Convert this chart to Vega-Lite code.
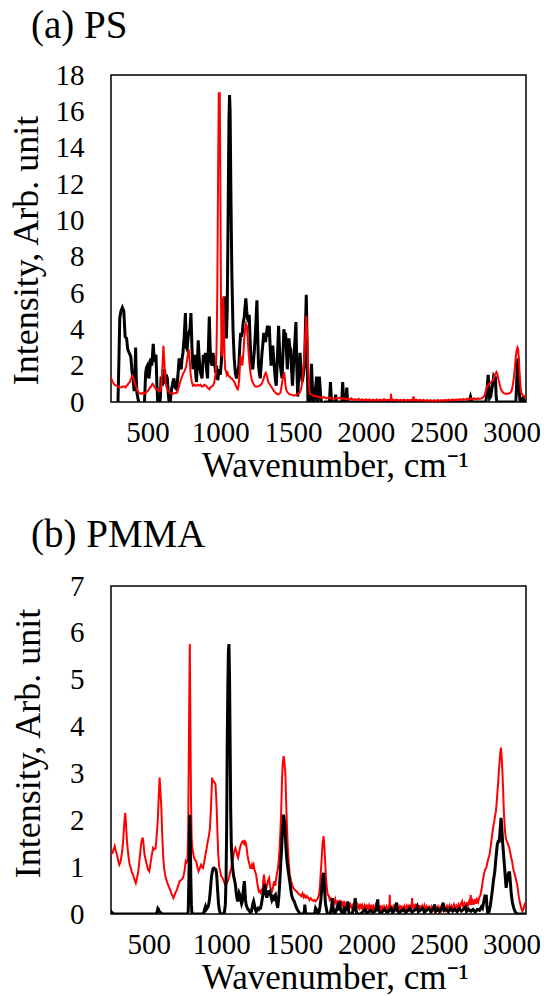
{
"$schema": "https://vega.github.io/schema/vega-lite/v6.json",
"background": "white",
"padding": {"left": 7, "top": 6, "right": 0, "bottom": 0},
"spacing": 31,
"config": {
  "font": "Liberation Serif",
  "view": {"stroke": "black", "strokeWidth": 1.5},
  "axis": {"grid": false, "ticks": false, "domain": false, "labelFont": "Liberation Serif", "labelFontSize": 29, "labelColor": "black", "titleFont": "Liberation Serif", "titleFontSize": 35, "titleFontWeight": "normal", "titleColor": "black", "labelFlush": false, "labelOverlap": false},
  "axisY": {"titleFontSize": 36},
  "title": {"font": "Liberation Serif", "fontSize": 39, "fontWeight": "normal", "anchor": "start", "color": "black", "frame": "group"}
},
"datasets": {
"psk": [{"x":290,"y":-1},{"x":298,"y":0},{"x":305,"y":2.5},{"x":310,"y":4.6},{"x":318,"y":5.0},{"x":328,"y":5.2},{"x":338,"y":5.0},{"x":347,"y":3.6},{"x":357,"y":3.5},{"x":365,"y":2.9},{"x":375,"y":2.7},{"x":386,"y":2.5},{"x":395,"y":1.6},{"x":400,"y":1.4},{"x":409,"y":0.6},{"x":414,"y":1.5},{"x":419,"y":3.0},{"x":424,"y":1.2},{"x":428,"y":0.5},{"x":440,"y":0},{"x":452,"y":-0.5},{"x":471,"y":-0.3},{"x":480,"y":0},{"x":488,"y":1.6},{"x":494,"y":1.9},{"x":500,"y":2.0},{"x":505,"y":1.5},{"x":511,"y":1.3},{"x":517,"y":1.8},{"x":523,"y":2.4},{"x":530,"y":2.0},{"x":540,"y":3.2},{"x":545,"y":2.6},{"x":549,"y":2.2},{"x":555,"y":2.5},{"x":559,"y":2.6},{"x":565,"y":1.0},{"x":571,"y":0},{"x":583,"y":-0.5},{"x":590,"y":0.4},{"x":594,"y":1.4},{"x":600,"y":1.2},{"x":606,"y":1.1},{"x":612,"y":1.4},{"x":618,"y":1.8},{"x":625,"y":1.0},{"x":630,"y":1.5},{"x":637,"y":1.3},{"x":645,"y":0.3},{"x":654,"y":-0.3},{"x":660,"y":0.3},{"x":666,"y":0.7},{"x":675,"y":1.1},{"x":682,"y":1.3},{"x":690,"y":0.8},{"x":701,"y":0.7},{"x":710,"y":1.5},{"x":718,"y":2.4},{"x":725,"y":2.0},{"x":732,"y":1.8},{"x":738,"y":2.4},{"x":744,"y":2.7},{"x":752,"y":3.5},{"x":761,"y":4.9},{"x":767,"y":3.0},{"x":773,"y":2.9},{"x":780,"y":3.6},{"x":785,"y":3.8},{"x":792,"y":4.0},{"x":799,"y":4.9},{"x":806,"y":3.0},{"x":813,"y":1.8},{"x":820,"y":2.2},{"x":827,"y":2.6},{"x":832,"y":1.5},{"x":837,"y":1.1},{"x":843,"y":2.2},{"x":849,"y":3.4},{"x":855,"y":2.5},{"x":861,"y":1.8},{"x":868,"y":1.5},{"x":875,"y":1.3},{"x":880,"y":2.0},{"x":884,"y":2.6},{"x":890,"y":2.2},{"x":899,"y":2.7},{"x":906,"y":1.8},{"x":913,"y":1.3},{"x":919,"y":3.0},{"x":925,"y":4.7},{"x":931,"y":3.0},{"x":937,"y":2.2},{"x":944,"y":2.0},{"x":951,"y":2.7},{"x":957,"y":2.3},{"x":963,"y":2.0},{"x":969,"y":1.6},{"x":975,"y":2.0},{"x":983,"y":1.2},{"x":992,"y":1.8},{"x":1000,"y":1.5},{"x":1008,"y":2.2},{"x":1015,"y":3.5},{"x":1022,"y":5.6},{"x":1030,"y":5.8},{"x":1036,"y":4.0},{"x":1042,"y":3.5},{"x":1048,"y":5.0},{"x":1054,"y":10.0},{"x":1060,"y":15.5},{"x":1064,"y":16.9},{"x":1068,"y":16.0},{"x":1074,"y":11.0},{"x":1080,"y":7.0},{"x":1088,"y":4.0},{"x":1096,"y":2.4},{"x":1104,"y":1.6},{"x":1112,"y":1.3},{"x":1120,"y":1.6},{"x":1128,"y":2.0},{"x":1134,"y":3.0},{"x":1140,"y":3.8},{"x":1146,"y":3.6},{"x":1152,"y":3.8},{"x":1158,"y":4.4},{"x":1164,"y":4.6},{"x":1170,"y":5.2},{"x":1176,"y":5.7},{"x":1182,"y":5.0},{"x":1188,"y":4.6},{"x":1194,"y":4.4},{"x":1199,"y":4.8},{"x":1205,"y":3.5},{"x":1211,"y":2.4},{"x":1217,"y":2.0},{"x":1223,"y":1.8},{"x":1229,"y":2.3},{"x":1235,"y":2.9},{"x":1243,"y":4.0},{"x":1252,"y":5.6},{"x":1258,"y":3.5},{"x":1263,"y":2.0},{"x":1269,"y":1.6},{"x":1275,"y":1.3},{"x":1281,"y":2.0},{"x":1287,"y":2.7},{"x":1293,"y":3.2},{"x":1299,"y":3.8},{"x":1305,"y":3.6},{"x":1311,"y":3.3},{"x":1318,"y":3.8},{"x":1325,"y":4.2},{"x":1331,"y":3.6},{"x":1337,"y":4.2},{"x":1343,"y":3.0},{"x":1349,"y":2.0},{"x":1355,"y":2.6},{"x":1361,"y":3.1},{"x":1367,"y":2.4},{"x":1373,"y":1.8},{"x":1379,"y":1.2},{"x":1385,"y":0.9},{"x":1393,"y":2.5},{"x":1401,"y":4.2},{"x":1407,"y":3.0},{"x":1413,"y":2.0},{"x":1419,"y":1.6},{"x":1425,"y":1.3},{"x":1431,"y":2.6},{"x":1437,"y":4.0},{"x":1443,"y":3.7},{"x":1449,"y":3.8},{"x":1455,"y":2.8},{"x":1461,"y":1.8},{"x":1466,"y":2.6},{"x":1472,"y":3.5},{"x":1478,"y":3.0},{"x":1484,"y":2.9},{"x":1490,"y":1.8},{"x":1496,"y":0.9},{"x":1502,"y":1.8},{"x":1508,"y":2.7},{"x":1514,"y":3.5},{"x":1520,"y":4.4},{"x":1526,"y":2.0},{"x":1532,"y":0.3},{"x":1540,"y":1.5},{"x":1548,"y":2.7},{"x":1555,"y":1.8},{"x":1563,"y":1.1},{"x":1571,"y":1.5},{"x":1579,"y":2.0},{"x":1585,"y":4.0},{"x":1591,"y":5.9},{"x":1597,"y":3.0},{"x":1603,"y":-0.3},{"x":1615,"y":0},{"x":1621,"y":1.0},{"x":1627,"y":2.1},{"x":1633,"y":0.8},{"x":1639,"y":-0.3},{"x":1645,"y":0},{"x":1650,"y":0.5},{"x":1656,"y":0.9},{"x":1662,"y":1.4},{"x":1666,"y":0.5},{"x":1669,"y":-0.2},{"x":1675,"y":0.5},{"x":1681,"y":1.4},{"x":1686,"y":0.8},{"x":1691,"y":0.2},{"x":1700,"y":-0.2},{"x":1720,"y":0},{"x":1750,"y":0},{"x":1754,"y":0.6},{"x":1757,"y":1.1},{"x":1761,"y":0.5},{"x":1765,"y":0},{"x":1788,"y":0},{"x":1793,"y":0.4},{"x":1798,"y":0},{"x":1835,"y":0},{"x":1838,"y":0.6},{"x":1841,"y":1.1},{"x":1845,"y":0.5},{"x":1848,"y":0},{"x":1864,"y":0},{"x":1867,"y":0.5},{"x":1869,"y":0.8},{"x":1872,"y":0.4},{"x":1876,"y":0},{"x":2700,"y":0},{"x":2712,"y":0.1},{"x":2719,"y":0.3},{"x":2726,"y":0.1},{"x":2735,"y":0},{"x":2825,"y":0},{"x":2832,"y":0.6},{"x":2840,"y":1.5},{"x":2846,"y":0.8},{"x":2850,"y":0.2},{"x":2858,"y":0.3},{"x":2865,"y":0.7},{"x":2872,"y":1.0},{"x":2878,"y":1.4},{"x":2884,"y":1.3},{"x":2890,"y":1.4},{"x":2895,"y":0.3},{"x":2900,"y":0},{"x":3030,"y":0},{"x":3035,"y":0.8},{"x":3040,"y":2.0},{"x":3045,"y":2.4},{"x":3050,"y":1.5},{"x":3055,"y":0.4},{"x":3060,"y":0},{"x":3075,"y":0},{"x":3080,"y":0.3},{"x":3086,"y":0},{"x":3100,"y":0}],
"psr": [{"x":250,"y":1.36},{"x":256,"y":1.2},{"x":262,"y":1.1},{"x":274,"y":0.95},{"x":286,"y":0.9},{"x":300,"y":0.85},{"x":310,"y":0.82},{"x":321,"y":0.8},{"x":330,"y":0.85},{"x":340,"y":0.85},{"x":350,"y":0.8},{"x":357,"y":0.9},{"x":365,"y":0.95},{"x":372,"y":1.05},{"x":380,"y":1.1},{"x":388,"y":1.3},{"x":397,"y":1.45},{"x":405,"y":1.3},{"x":410,"y":1.1},{"x":416,"y":1.0},{"x":422,"y":0.85},{"x":428,"y":0.7},{"x":434,"y":0.6},{"x":440,"y":0.5},{"x":450,"y":0.48},{"x":458,"y":0.45},{"x":466,"y":0.5},{"x":475,"y":0.45},{"x":485,"y":0.5},{"x":495,"y":0.55},{"x":503,"y":0.6},{"x":511,"y":0.7},{"x":518,"y":0.8},{"x":525,"y":0.85},{"x":530,"y":0.95},{"x":535,"y":1.0},{"x":541,"y":0.95},{"x":547,"y":0.85},{"x":553,"y":0.8},{"x":559,"y":0.7},{"x":567,"y":0.7},{"x":575,"y":0.65},{"x":582,"y":0.6},{"x":589,"y":0.6},{"x":595,"y":0.9},{"x":601,"y":1.6},{"x":606,"y":2.4},{"x":610,"y":3.1},{"x":615,"y":2.4},{"x":620,"y":1.6},{"x":626,"y":1.0},{"x":632,"y":0.8},{"x":637,"y":0.7},{"x":644,"y":0.6},{"x":650,"y":0.55},{"x":658,"y":0.5},{"x":666,"y":0.45},{"x":675,"y":0.45},{"x":685,"y":0.48},{"x":693,"y":0.5},{"x":701,"y":0.5},{"x":708,"y":0.6},{"x":715,"y":0.8},{"x":720,"y":0.95},{"x":725,"y":1.1},{"x":733,"y":1.3},{"x":740,"y":1.45},{"x":748,"y":1.6},{"x":755,"y":1.7},{"x":762,"y":1.85},{"x":767,"y":2.0},{"x":772,"y":2.3},{"x":778,"y":2.6},{"x":784,"y":2.9},{"x":790,"y":2.4},{"x":796,"y":1.6},{"x":801,"y":1.3},{"x":805,"y":1.1},{"x":813,"y":0.9},{"x":820,"y":0.95},{"x":828,"y":0.9},{"x":835,"y":0.9},{"x":845,"y":0.95},{"x":855,"y":0.9},{"x":865,"y":0.95},{"x":873,"y":0.85},{"x":880,"y":0.85},{"x":892,"y":0.95},{"x":903,"y":0.9},{"x":912,"y":0.8},{"x":920,"y":0.75},{"x":926,"y":0.7},{"x":933,"y":0.8},{"x":940,"y":0.85},{"x":950,"y":0.9},{"x":956,"y":1.0},{"x":962,"y":1.2},{"x":969,"y":1.6},{"x":975,"y":3.0},{"x":980,"y":6.0},{"x":985,"y":12.0},{"x":990,"y":17.0},{"x":997,"y":17.0},{"x":1001,"y":12.0},{"x":1005,"y":6.0},{"x":1009,"y":2.8},{"x":1013,"y":2.5},{"x":1017,"y":3.8},{"x":1022,"y":5.8},{"x":1026,"y":4.0},{"x":1030,"y":2.5},{"x":1034,"y":1.8},{"x":1040,"y":1.7},{"x":1045,"y":1.5},{"x":1051,"y":1.6},{"x":1057,"y":1.45},{"x":1064,"y":1.4},{"x":1070,"y":1.35},{"x":1076,"y":1.3},{"x":1081,"y":1.3},{"x":1089,"y":1.2},{"x":1097,"y":1.1},{"x":1104,"y":0.95},{"x":1110,"y":0.85},{"x":1116,"y":0.75},{"x":1121,"y":0.7},{"x":1126,"y":0.9},{"x":1130,"y":1.2},{"x":1135,"y":1.9},{"x":1140,"y":2.55},{"x":1146,"y":2.3},{"x":1152,"y":2.0},{"x":1157,"y":2.5},{"x":1162,"y":3.0},{"x":1166,"y":3.6},{"x":1171,"y":4.0},{"x":1177,"y":4.3},{"x":1183,"y":4.2},{"x":1189,"y":3.5},{"x":1195,"y":2.7},{"x":1200,"y":2.2},{"x":1205,"y":1.8},{"x":1211,"y":1.45},{"x":1216,"y":1.25},{"x":1222,"y":1.1},{"x":1228,"y":1.0},{"x":1235,"y":0.9},{"x":1242,"y":0.85},{"x":1250,"y":0.85},{"x":1260,"y":0.85},{"x":1271,"y":0.9},{"x":1278,"y":0.95},{"x":1285,"y":1.0},{"x":1292,"y":1.15},{"x":1299,"y":1.3},{"x":1306,"y":1.5},{"x":1313,"y":1.6},{"x":1318,"y":1.5},{"x":1322,"y":1.4},{"x":1326,"y":1.25},{"x":1330,"y":1.1},{"x":1338,"y":1.0},{"x":1346,"y":0.9},{"x":1354,"y":0.8},{"x":1362,"y":0.7},{"x":1370,"y":0.6},{"x":1380,"y":0.5},{"x":1389,"y":0.45},{"x":1397,"y":0.42},{"x":1405,"y":0.45},{"x":1413,"y":0.5},{"x":1418,"y":0.7},{"x":1422,"y":0.9},{"x":1426,"y":1.1},{"x":1430,"y":1.3},{"x":1436,"y":1.5},{"x":1441,"y":1.55},{"x":1445,"y":1.2},{"x":1449,"y":0.9},{"x":1453,"y":0.7},{"x":1460,"y":0.55},{"x":1466,"y":0.5},{"x":1472,"y":0.45},{"x":1480,"y":0.42},{"x":1490,"y":0.4},{"x":1499,"y":0.38},{"x":1508,"y":0.35},{"x":1516,"y":0.38},{"x":1525,"y":0.4},{"x":1534,"y":0.45},{"x":1544,"y":0.5},{"x":1551,"y":0.6},{"x":1558,"y":0.8},{"x":1563,"y":1.1},{"x":1567,"y":1.45},{"x":1573,"y":2.0},{"x":1579,"y":2.7},{"x":1585,"y":3.8},{"x":1591,"y":4.75},{"x":1596,"y":4.0},{"x":1601,"y":2.7},{"x":1606,"y":1.5},{"x":1610,"y":0.9},{"x":1615,"y":0.5},{"x":1620,"y":0.45},{"x":1625,"y":0.4},{"x":1632,"y":0.38},{"x":1639,"y":0.35},{"x":1650,"y":0.33},{"x":1660,"y":0.3},{"x":1670,"y":0.3},{"x":1680,"y":0.28},{"x":1690,"y":0.25},{"x":1700,"y":0.22},{"x":1712,"y":0.28},{"x":1725,"y":0.2},{"x":1737,"y":0.24},{"x":1750,"y":0.25},{"x":1762,"y":0.18},{"x":1775,"y":0.22},{"x":1787,"y":0.17},{"x":1800,"y":0.22},{"x":1812,"y":0.2},{"x":1825,"y":0.25},{"x":1837,"y":0.17},{"x":1850,"y":0.2},{"x":1862,"y":0.14},{"x":1876,"y":0.17},{"x":1888,"y":0.13},{"x":1900,"y":0.2},{"x":1912,"y":0.12},{"x":1925,"y":0.16},{"x":1937,"y":0.1},{"x":1950,"y":0.18},{"x":1962,"y":0.1},{"x":1975,"y":0.14},{"x":1987,"y":0.09},{"x":2000,"y":0.15},{"x":2012,"y":0.1},{"x":2025,"y":0.14},{"x":2037,"y":0.08},{"x":2050,"y":0.13},{"x":2062,"y":0.08},{"x":2075,"y":0.14},{"x":2087,"y":0.09},{"x":2100,"y":0.13},{"x":2112,"y":0.08},{"x":2125,"y":0.16},{"x":2137,"y":0.09},{"x":2150,"y":0.12},{"x":2162,"y":0.1},{"x":2170,"y":0.14},{"x":2173,"y":0.45},{"x":2177,"y":0.1},{"x":2188,"y":0.14},{"x":2200,"y":0.09},{"x":2212,"y":0.13},{"x":2225,"y":0.07},{"x":2237,"y":0.12},{"x":2250,"y":0.08},{"x":2262,"y":0.13},{"x":2275,"y":0.07},{"x":2287,"y":0.12},{"x":2300,"y":0.08},{"x":2312,"y":0.12},{"x":2322,"y":0.1},{"x":2327,"y":0.3},{"x":2332,"y":0.1},{"x":2345,"y":0.14},{"x":2357,"y":0.08},{"x":2370,"y":0.13},{"x":2382,"y":0.07},{"x":2395,"y":0.12},{"x":2407,"y":0.06},{"x":2420,"y":0.11},{"x":2432,"y":0.06},{"x":2445,"y":0.1},{"x":2457,"y":0.05},{"x":2470,"y":0.1},{"x":2482,"y":0.06},{"x":2495,"y":0.11},{"x":2507,"y":0.06},{"x":2520,"y":0.1},{"x":2532,"y":0.07},{"x":2545,"y":0.12},{"x":2557,"y":0.07},{"x":2570,"y":0.13},{"x":2582,"y":0.08},{"x":2595,"y":0.14},{"x":2607,"y":0.09},{"x":2620,"y":0.15},{"x":2632,"y":0.1},{"x":2645,"y":0.16},{"x":2657,"y":0.11},{"x":2670,"y":0.17},{"x":2682,"y":0.12},{"x":2695,"y":0.18},{"x":2707,"y":0.12},{"x":2720,"y":0.2},{"x":2732,"y":0.14},{"x":2745,"y":0.2},{"x":2757,"y":0.15},{"x":2770,"y":0.2},{"x":2782,"y":0.17},{"x":2795,"y":0.2},{"x":2805,"y":0.25},{"x":2815,"y":0.35},{"x":2822,"y":0.55},{"x":2830,"y":0.8},{"x":2837,"y":0.9},{"x":2845,"y":0.95},{"x":2852,"y":1.05},{"x":2861,"y":1.1},{"x":2868,"y":1.15},{"x":2875,"y":1.2},{"x":2882,"y":1.4},{"x":2890,"y":1.55},{"x":2897,"y":1.65},{"x":2903,"y":1.55},{"x":2909,"y":1.3},{"x":2915,"y":1.1},{"x":2921,"y":0.9},{"x":2928,"y":0.7},{"x":2935,"y":0.6},{"x":2945,"y":0.5},{"x":2956,"y":0.45},{"x":2965,"y":0.45},{"x":2975,"y":0.45},{"x":2985,"y":0.48},{"x":2992,"y":0.5},{"x":3000,"y":0.6},{"x":3008,"y":0.85},{"x":3016,"y":1.3},{"x":3024,"y":1.9},{"x":3030,"y":2.5},{"x":3036,"y":2.85},{"x":3041,"y":3.0},{"x":3046,"y":2.9},{"x":3051,"y":2.4},{"x":3056,"y":1.6},{"x":3062,"y":0.9},{"x":3068,"y":0.5},{"x":3075,"y":0.4},{"x":3082,"y":0.35},{"x":3090,"y":0.3},{"x":3100,"y":0.2}],
"pmr": [{"x":230,"y":1.23},{"x":240,"y":1.28},{"x":250,"y":1.3},{"x":258,"y":1.38},{"x":266,"y":1.45},{"x":273,"y":1.35},{"x":281,"y":1.27},{"x":289,"y":1.15},{"x":297,"y":1.05},{"x":305,"y":1.1},{"x":314,"y":1.27},{"x":321,"y":1.45},{"x":328,"y":1.77},{"x":333,"y":2.0},{"x":338,"y":2.16},{"x":343,"y":1.95},{"x":350,"y":1.55},{"x":358,"y":1.3},{"x":365,"y":1.12},{"x":369,"y":1.05},{"x":375,"y":1.0},{"x":383,"y":0.9},{"x":392,"y":0.84},{"x":400,"y":0.75},{"x":406,"y":0.7},{"x":411,"y":0.66},{"x":418,"y":0.75},{"x":428,"y":0.91},{"x":435,"y":1.1},{"x":441,"y":1.3},{"x":447,"y":1.48},{"x":453,"y":1.58},{"x":459,"y":1.63},{"x":464,"y":1.5},{"x":471,"y":1.27},{"x":479,"y":1.15},{"x":487,"y":1.05},{"x":495,"y":0.95},{"x":504,"y":0.91},{"x":511,"y":1.05},{"x":518,"y":1.2},{"x":525,"y":1.32},{"x":530,"y":1.41},{"x":538,"y":1.38},{"x":547,"y":1.4},{"x":553,"y":1.6},{"x":558,"y":1.8},{"x":563,"y":2.05},{"x":569,"y":2.5},{"x":575,"y":2.91},{"x":581,"y":2.6},{"x":587,"y":2.27},{"x":593,"y":1.7},{"x":599,"y":1.27},{"x":605,"y":1.0},{"x":612,"y":0.85},{"x":618,"y":0.77},{"x":625,"y":0.7},{"x":633,"y":0.62},{"x":642,"y":0.56},{"x":650,"y":0.5},{"x":660,"y":0.41},{"x":666,"y":0.38},{"x":670,"y":0.34},{"x":676,"y":0.38},{"x":683,"y":0.45},{"x":689,"y":0.48},{"x":697,"y":0.55},{"x":705,"y":0.62},{"x":713,"y":0.7},{"x":722,"y":0.72},{"x":730,"y":0.75},{"x":736,"y":0.77},{"x":742,"y":0.85},{"x":748,"y":0.95},{"x":755,"y":1.13},{"x":762,"y":1.1},{"x":767,"y":1.13},{"x":772,"y":1.8},{"x":775,"y":2.9},{"x":779,"y":4.5},{"x":783,"y":5.76},{"x":787,"y":4.2},{"x":791,"y":2.5},{"x":796,"y":1.6},{"x":801,"y":1.41},{"x":806,"y":1.3},{"x":812,"y":1.2},{"x":820,"y":1.15},{"x":827,"y":1.13},{"x":835,"y":1.0},{"x":843,"y":0.91},{"x":851,"y":0.98},{"x":860,"y":1.05},{"x":867,"y":1.0},{"x":874,"y":0.98},{"x":882,"y":1.1},{"x":891,"y":1.27},{"x":899,"y":1.4},{"x":907,"y":1.55},{"x":914,"y":1.65},{"x":922,"y":1.84},{"x":928,"y":2.2},{"x":933,"y":2.6},{"x":937,"y":2.91},{"x":941,"y":2.85},{"x":945,"y":2.84},{"x":950,"y":2.82},{"x":955,"y":2.8},{"x":960,"y":2.77},{"x":965,"y":2.5},{"x":969,"y":2.2},{"x":974,"y":1.7},{"x":979,"y":1.27},{"x":986,"y":1.0},{"x":993,"y":0.91},{"x":1000,"y":0.8},{"x":1009,"y":0.77},{"x":1017,"y":0.7},{"x":1026,"y":0.63},{"x":1035,"y":0.65},{"x":1045,"y":0.7},{"x":1055,"y":0.8},{"x":1062,"y":0.9},{"x":1069,"y":0.98},{"x":1075,"y":1.1},{"x":1081,"y":1.2},{"x":1087,"y":1.3},{"x":1093,"y":1.38},{"x":1097,"y":1.41},{"x":1103,"y":1.35},{"x":1110,"y":1.25},{"x":1116,"y":1.2},{"x":1122,"y":1.3},{"x":1128,"y":1.4},{"x":1135,"y":1.48},{"x":1141,"y":1.52},{"x":1147,"y":1.55},{"x":1152,"y":1.55},{"x":1158,"y":1.5},{"x":1163,"y":1.55},{"x":1169,"y":1.52},{"x":1175,"y":1.4},{"x":1181,"y":1.25},{"x":1188,"y":1.13},{"x":1195,"y":1.05},{"x":1200,"y":0.98},{"x":1207,"y":0.98},{"x":1212,"y":1.05},{"x":1217,"y":1.0},{"x":1223,"y":1.05},{"x":1228,"y":0.95},{"x":1234,"y":0.9},{"x":1240,"y":0.84},{"x":1246,"y":0.7},{"x":1252,"y":0.58},{"x":1259,"y":0.48},{"x":1265,"y":0.5},{"x":1272,"y":0.45},{"x":1278,"y":0.5},{"x":1283,"y":0.45},{"x":1289,"y":0.7},{"x":1294,"y":0.84},{"x":1299,"y":0.7},{"x":1305,"y":0.6},{"x":1311,"y":0.56},{"x":1318,"y":0.65},{"x":1324,"y":0.73},{"x":1330,"y":0.77},{"x":1336,"y":0.6},{"x":1343,"y":0.52},{"x":1349,"y":0.48},{"x":1356,"y":0.55},{"x":1361,"y":0.65},{"x":1366,"y":0.7},{"x":1372,"y":0.6},{"x":1378,"y":0.75},{"x":1382,"y":0.84},{"x":1389,"y":0.95},{"x":1396,"y":1.13},{"x":1402,"y":1.4},{"x":1408,"y":1.8},{"x":1413,"y":2.2},{"x":1418,"y":2.8},{"x":1423,"y":3.2},{"x":1430,"y":3.37},{"x":1436,"y":3.2},{"x":1442,"y":2.98},{"x":1447,"y":2.4},{"x":1453,"y":1.84},{"x":1458,"y":1.45},{"x":1464,"y":1.15},{"x":1472,"y":0.84},{"x":1480,"y":0.72},{"x":1488,"y":0.62},{"x":1496,"y":0.56},{"x":1504,"y":0.52},{"x":1512,"y":0.5},{"x":1520,"y":0.48},{"x":1528,"y":0.45},{"x":1536,"y":0.42},{"x":1544,"y":0.41},{"x":1552,"y":0.38},{"x":1560,"y":0.44},{"x":1568,"y":0.36},{"x":1575,"y":0.4},{"x":1583,"y":0.35},{"x":1591,"y":0.38},{"x":1600,"y":0.34},{"x":1608,"y":0.3},{"x":1615,"y":0.34},{"x":1625,"y":0.3},{"x":1635,"y":0.28},{"x":1643,"y":0.3},{"x":1650,"y":0.27},{"x":1658,"y":0.3},{"x":1665,"y":0.33},{"x":1670,"y":0.38},{"x":1674,"y":0.41},{"x":1680,"y":0.6},{"x":1686,"y":0.9},{"x":1691,"y":1.13},{"x":1698,"y":1.5},{"x":1705,"y":1.66},{"x":1711,"y":1.4},{"x":1717,"y":1.05},{"x":1722,"y":0.75},{"x":1728,"y":0.55},{"x":1734,"y":0.41},{"x":1740,"y":0.4},{"x":1748,"y":0.3},{"x":1755,"y":0.33},{"x":1762,"y":0.27},{"x":1769,"y":0.3},{"x":1777,"y":0.24},{"x":1785,"y":0.32},{"x":1792,"y":0.22},{"x":1800,"y":0.26},{"x":1807,"y":0.2},{"x":1815,"y":0.3},{"x":1822,"y":0.2},{"x":1829,"y":0.25},{"x":1837,"y":0.18},{"x":1845,"y":0.28},{"x":1852,"y":0.16},{"x":1860,"y":0.22},{"x":1868,"y":0.14},{"x":1876,"y":0.25},{"x":1883,"y":0.14},{"x":1890,"y":0.2},{"x":1900,"y":0.12},{"x":1908,"y":0.22},{"x":1915,"y":0.12},{"x":1922,"y":0.2},{"x":1930,"y":0.1},{"x":1940,"y":0.2},{"x":1950,"y":0.12},{"x":1958,"y":0.22},{"x":1965,"y":0.1},{"x":1972,"y":0.18},{"x":1980,"y":0.1},{"x":1988,"y":0.18},{"x":1995,"y":0.1},{"x":2003,"y":0.2},{"x":2010,"y":0.09},{"x":2018,"y":0.18},{"x":2025,"y":0.1},{"x":2033,"y":0.2},{"x":2040,"y":0.08},{"x":2048,"y":0.16},{"x":2055,"y":0.09},{"x":2063,"y":0.18},{"x":2070,"y":0.1},{"x":2078,"y":0.17},{"x":2085,"y":0.08},{"x":2093,"y":0.18},{"x":2100,"y":0.08},{"x":2108,"y":0.15},{"x":2115,"y":0.09},{"x":2122,"y":0.16},{"x":2130,"y":0.1},{"x":2138,"y":0.16},{"x":2145,"y":0.08},{"x":2152,"y":0.14},{"x":2158,"y":0.1},{"x":2161,"y":0.41},{"x":2164,"y":0.12},{"x":2170,"y":0.15},{"x":2178,"y":0.08},{"x":2185,"y":0.16},{"x":2193,"y":0.08},{"x":2200,"y":0.18},{"x":2208,"y":0.1},{"x":2216,"y":0.17},{"x":2224,"y":0.08},{"x":2232,"y":0.16},{"x":2240,"y":0.1},{"x":2248,"y":0.18},{"x":2255,"y":0.06},{"x":2263,"y":0.16},{"x":2270,"y":0.09},{"x":2278,"y":0.17},{"x":2285,"y":0.1},{"x":2293,"y":0.2},{"x":2300,"y":0.1},{"x":2308,"y":0.18},{"x":2312,"y":0.14},{"x":2315,"y":0.34},{"x":2319,"y":0.12},{"x":2326,"y":0.2},{"x":2333,"y":0.1},{"x":2340,"y":0.22},{"x":2348,"y":0.1},{"x":2355,"y":0.2},{"x":2363,"y":0.08},{"x":2370,"y":0.18},{"x":2378,"y":0.08},{"x":2385,"y":0.17},{"x":2393,"y":0.1},{"x":2400,"y":0.18},{"x":2408,"y":0.08},{"x":2416,"y":0.16},{"x":2424,"y":0.1},{"x":2432,"y":0.15},{"x":2440,"y":0.06},{"x":2448,"y":0.15},{"x":2455,"y":0.08},{"x":2463,"y":0.15},{"x":2470,"y":0.07},{"x":2478,"y":0.14},{"x":2485,"y":0.08},{"x":2493,"y":0.15},{"x":2500,"y":0.05},{"x":2508,"y":0.14},{"x":2516,"y":0.08},{"x":2524,"y":0.15},{"x":2532,"y":0.07},{"x":2540,"y":0.16},{"x":2548,"y":0.08},{"x":2556,"y":0.17},{"x":2564,"y":0.1},{"x":2572,"y":0.18},{"x":2580,"y":0.1},{"x":2588,"y":0.17},{"x":2596,"y":0.11},{"x":2604,"y":0.2},{"x":2612,"y":0.12},{"x":2620,"y":0.18},{"x":2628,"y":0.12},{"x":2636,"y":0.2},{"x":2644,"y":0.12},{"x":2652,"y":0.22},{"x":2660,"y":0.27},{"x":2668,"y":0.14},{"x":2676,"y":0.22},{"x":2684,"y":0.14},{"x":2692,"y":0.25},{"x":2700,"y":0.16},{"x":2708,"y":0.26},{"x":2714,"y":0.2},{"x":2719,"y":0.41},{"x":2724,"y":0.2},{"x":2732,"y":0.28},{"x":2740,"y":0.2},{"x":2748,"y":0.32},{"x":2755,"y":0.22},{"x":2762,"y":0.31},{"x":2770,"y":0.25},{"x":2778,"y":0.35},{"x":2786,"y":0.4},{"x":2795,"y":0.55},{"x":2802,"y":0.7},{"x":2810,"y":0.85},{"x":2818,"y":0.95},{"x":2826,"y":0.98},{"x":2834,"y":1.1},{"x":2842,"y":1.2},{"x":2849,"y":1.27},{"x":2855,"y":1.4},{"x":2861,"y":1.55},{"x":2867,"y":1.7},{"x":2873,"y":1.84},{"x":2880,"y":1.95},{"x":2887,"y":2.1},{"x":2893,"y":2.2},{"x":2897,"y":2.34},{"x":2903,"y":2.6},{"x":2908,"y":2.8},{"x":2913,"y":3.05},{"x":2918,"y":3.25},{"x":2923,"y":3.45},{"x":2928,"y":3.55},{"x":2933,"y":3.3},{"x":2938,"y":3.0},{"x":2943,"y":2.6},{"x":2947,"y":2.2},{"x":2951,"y":1.98},{"x":2956,"y":1.75},{"x":2962,"y":1.6},{"x":2968,"y":1.55},{"x":2975,"y":1.5},{"x":2980,"y":1.45},{"x":2985,"y":1.41},{"x":2992,"y":1.3},{"x":2998,"y":1.2},{"x":3004,"y":1.13},{"x":3010,"y":1.0},{"x":3016,"y":0.92},{"x":3023,"y":0.84},{"x":3030,"y":0.75},{"x":3035,"y":0.68},{"x":3039,"y":0.63},{"x":3045,"y":0.5},{"x":3050,"y":0.38},{"x":3056,"y":0.27},{"x":3063,"y":0.18},{"x":3070,"y":0.1},{"x":3075,"y":0.06},{"x":3082,"y":0.1},{"x":3088,"y":0.18},{"x":3095,"y":0.24}],
"pmk": [{"x":230,"y":0.09},{"x":240,"y":0.05},{"x":250,"y":0.02},{"x":262,"y":0},{"x":545,"y":0},{"x":552,"y":0},{"x":558,"y":0.05},{"x":563,"y":0.12},{"x":568,"y":0.1},{"x":573,"y":0.05},{"x":582,"y":0.03},{"x":590,"y":0},{"x":765,"y":0},{"x":772,"y":0.05},{"x":776,"y":0.6},{"x":779,"y":1.13},{"x":783,"y":2.12},{"x":787,"y":1.6},{"x":790,"y":0.77},{"x":794,"y":0.2},{"x":798,"y":0},{"x":870,"y":0},{"x":879,"y":0.02},{"x":885,"y":0.1},{"x":891,"y":0.16},{"x":897,"y":0.1},{"x":903,"y":0.13},{"x":908,"y":0.15},{"x":913,"y":0.2},{"x":918,"y":0.3},{"x":922,"y":0.41},{"x":927,"y":0.6},{"x":932,"y":0.78},{"x":938,"y":0.9},{"x":944,"y":0.97},{"x":950,"y":0.98},{"x":956,"y":0.96},{"x":962,"y":0.95},{"x":967,"y":0.88},{"x":971,"y":0.7},{"x":976,"y":0.45},{"x":981,"y":0.22},{"x":986,"y":0.1},{"x":992,"y":0.03},{"x":998,"y":0},{"x":1020,"y":0},{"x":1028,"y":0.2},{"x":1033,"y":0.77},{"x":1037,"y":1.8},{"x":1041,"y":3.6},{"x":1045,"y":4.8},{"x":1049,"y":5.6},{"x":1053,"y":5.76},{"x":1057,"y":5.0},{"x":1061,"y":3.6},{"x":1065,"y":2.2},{"x":1069,"y":1.48},{"x":1075,"y":1.1},{"x":1081,"y":0.9},{"x":1087,"y":0.78},{"x":1093,"y":0.7},{"x":1097,"y":0.63},{"x":1103,"y":0.45},{"x":1109,"y":0.32},{"x":1113,"y":0.27},{"x":1118,"y":0.35},{"x":1123,"y":0.45},{"x":1128,"y":0.41},{"x":1134,"y":0.3},{"x":1140,"y":0.22},{"x":1145,"y":0.27},{"x":1150,"y":0.45},{"x":1155,"y":0.6},{"x":1159,"y":0.7},{"x":1163,"y":0.5},{"x":1167,"y":0.3},{"x":1171,"y":0.2},{"x":1177,"y":0.15},{"x":1183,"y":0.1},{"x":1188,"y":0.09},{"x":1195,"y":0.06},{"x":1201,"y":0.03},{"x":1207,"y":0.05},{"x":1213,"y":0.15},{"x":1218,"y":0.22},{"x":1223,"y":0.27},{"x":1228,"y":0.2},{"x":1235,"y":0.09},{"x":1241,"y":0.05},{"x":1247,"y":0.09},{"x":1253,"y":0.12},{"x":1259,"y":0.1},{"x":1265,"y":0.13},{"x":1271,"y":0.13},{"x":1276,"y":0.2},{"x":1281,"y":0.3},{"x":1287,"y":0.41},{"x":1292,"y":0.5},{"x":1297,"y":0.58},{"x":1301,"y":0.63},{"x":1305,"y":0.5},{"x":1309,"y":0.4},{"x":1314,"y":0.35},{"x":1318,"y":0.41},{"x":1323,"y":0.5},{"x":1328,"y":0.45},{"x":1335,"y":0.48},{"x":1340,"y":0.4},{"x":1345,"y":0.35},{"x":1349,"y":0.3},{"x":1354,"y":0.34},{"x":1360,"y":0.28},{"x":1366,"y":0.38},{"x":1373,"y":0.41},{"x":1379,"y":0.3},{"x":1385,"y":0.18},{"x":1389,"y":0.13},{"x":1395,"y":0.3},{"x":1401,"y":0.56},{"x":1406,"y":0.85},{"x":1410,"y":1.1},{"x":1415,"y":1.34},{"x":1420,"y":1.7},{"x":1425,"y":1.95},{"x":1430,"y":2.12},{"x":1436,"y":1.95},{"x":1442,"y":1.63},{"x":1447,"y":1.35},{"x":1453,"y":1.13},{"x":1460,"y":0.95},{"x":1468,"y":0.77},{"x":1476,"y":0.6},{"x":1484,"y":0.41},{"x":1493,"y":0.32},{"x":1503,"y":0.27},{"x":1512,"y":0.18},{"x":1520,"y":0.12},{"x":1525,"y":0.09},{"x":1533,"y":0.05},{"x":1544,"y":0},{"x":1568,"y":0},{"x":1573,"y":0.08},{"x":1576,"y":0.2},{"x":1580,"y":0.05},{"x":1585,"y":0},{"x":1640,"y":0},{"x":1645,"y":0.05},{"x":1650,"y":0.13},{"x":1656,"y":0.1},{"x":1662,"y":0.04},{"x":1668,"y":0.02},{"x":1674,"y":0.05},{"x":1680,"y":0.15},{"x":1686,"y":0.3},{"x":1691,"y":0.48},{"x":1698,"y":0.75},{"x":1705,"y":0.88},{"x":1711,"y":0.6},{"x":1716,"y":0.3},{"x":1719,"y":0.2},{"x":1725,"y":0.1},{"x":1730,"y":0.02},{"x":1734,"y":0},{"x":1750,"y":0},{"x":1760,"y":0.15},{"x":1766,"y":0.34},{"x":1772,"y":0.1},{"x":1777,"y":0},{"x":1790,"y":0.05},{"x":1800,"y":0.15},{"x":1806,"y":0.08},{"x":1812,"y":0.2},{"x":1817,"y":0.27},{"x":1822,"y":0.1},{"x":1828,"y":0.05},{"x":1835,"y":0},{"x":1845,"y":0.1},{"x":1852,"y":0.05},{"x":1860,"y":0.15},{"x":1866,"y":0.08},{"x":1872,"y":0.27},{"x":1876,"y":0.1},{"x":1882,"y":0},{"x":1900,"y":0},{"x":1910,"y":0.08},{"x":1918,"y":0.2},{"x":1923,"y":0.34},{"x":1928,"y":0.1},{"x":1935,"y":0},{"x":1960,"y":0},{"x":1975,"y":0.05},{"x":1990,"y":0.1},{"x":2000,"y":0.02},{"x":2018,"y":0.05},{"x":2030,"y":0.08},{"x":2045,"y":0.03},{"x":2060,"y":0.06},{"x":2070,"y":0.15},{"x":2078,"y":0.31},{"x":2084,"y":0.08},{"x":2095,"y":0.02},{"x":2110,"y":0.05},{"x":2125,"y":0.1},{"x":2140,"y":0.04},{"x":2155,"y":0.06},{"x":2170,"y":0.12},{"x":2180,"y":0.04},{"x":2195,"y":0.08},{"x":2202,"y":0.18},{"x":2208,"y":0.24},{"x":2214,"y":0.08},{"x":2225,"y":0.02},{"x":2240,"y":0.06},{"x":2256,"y":0.1},{"x":2270,"y":0.03},{"x":2285,"y":0.07},{"x":2300,"y":0.12},{"x":2315,"y":0.04},{"x":2330,"y":0.08},{"x":2345,"y":0.1},{"x":2351,"y":0.15},{"x":2358,"y":0.05},{"x":2372,"y":0.08},{"x":2388,"y":0.12},{"x":2400,"y":0.04},{"x":2415,"y":0.08},{"x":2430,"y":0.12},{"x":2445,"y":0.05},{"x":2460,"y":0.1},{"x":2470,"y":0.2},{"x":2478,"y":0.06},{"x":2492,"y":0.1},{"x":2505,"y":0.05},{"x":2518,"y":0.12},{"x":2529,"y":0.24},{"x":2536,"y":0.08},{"x":2550,"y":0.1},{"x":2565,"y":0.05},{"x":2580,"y":0.12},{"x":2595,"y":0.06},{"x":2610,"y":0.1},{"x":2625,"y":0.05},{"x":2640,"y":0.12},{"x":2655,"y":0.06},{"x":2670,"y":0.1},{"x":2683,"y":0.15},{"x":2690,"y":0.05},{"x":2705,"y":0.1},{"x":2720,"y":0.06},{"x":2735,"y":0.1},{"x":2750,"y":0.04},{"x":2765,"y":0.1},{"x":2780,"y":0.08},{"x":2792,"y":0.15},{"x":2800,"y":0.12},{"x":2808,"y":0.25},{"x":2814,"y":0.34},{"x":2820,"y":0.3},{"x":2826,"y":0.41},{"x":2830,"y":0.2},{"x":2837,"y":0},{"x":2845,"y":0.05},{"x":2853,"y":0.15},{"x":2861,"y":0.34},{"x":2868,"y":0.5},{"x":2875,"y":0.7},{"x":2885,"y":0.91},{"x":2893,"y":1.2},{"x":2902,"y":1.48},{"x":2909,"y":1.55},{"x":2916,"y":1.55},{"x":2922,"y":1.8},{"x":2928,"y":2.05},{"x":2934,"y":1.8},{"x":2940,"y":1.48},{"x":2946,"y":1.25},{"x":2951,"y":1.05},{"x":2957,"y":0.8},{"x":2963,"y":0.56},{"x":2969,"y":0.7},{"x":2975,"y":0.84},{"x":2981,"y":0.88},{"x":2987,"y":0.88},{"x":2993,"y":0.65},{"x":2999,"y":0.41},{"x":3006,"y":0.25},{"x":3015,"y":0.13},{"x":3025,"y":0.05},{"x":3039,"y":0},{"x":3100,"y":0}]
},
"vconcat": [
 {
  "title": {"text": "(a) PS", "dx": -80, "offset": -16, "baseline": "alphabetic"},
  "width": 415, "height": 327,
  "encoding": {
    "x": {"field": "x", "type": "quantitative", "scale": {"domain": [250, 3100], "nice": false, "zero": false},
          "axis": {"values": [500,1000,1500,2000,2500,3000], "format": "d", "title": "Wavenumber, cm⁻¹", "labelPadding": 16, "titleX": 224, "titleY": 74, "titleBaseline": "alphabetic"}},
    "y": {"field": "y", "type": "quantitative", "scale": {"domain": [0, 18], "nice": false},
          "axis": {"values": [0,2,4,6,8,10,12,14,16,18], "title": "Intensity, Arb. unit", "labelPadding": 27, "titleX": -74, "titleY": 175, "titleBaseline": "alphabetic"}}
  },
  "layer": [
    {"data": {"name": "psk"}, "mark": {"type": "line", "color": "black", "strokeWidth": 3, "clip": true}},
    {"data": {"name": "psr"}, "mark": {"type": "line", "color": "#ff0000", "strokeWidth": 2, "clip": true}}
  ]
 },
 {
  "title": {"text": "(b) PMMA", "dx": -80, "offset": -14, "baseline": "alphabetic"},
  "width": 415, "height": 328,
  "encoding": {
    "x": {"field": "x", "type": "quantitative", "scale": {"domain": [240, 3100], "nice": false, "zero": false},
          "axis": {"values": [500,1000,1500,2000,2500,3000], "format": "d", "title": "Wavenumber, cm⁻¹", "labelPadding": 16, "titleX": 224, "titleY": 74, "titleBaseline": "alphabetic"}},
    "y": {"field": "y", "type": "quantitative", "scale": {"domain": [0, 7], "nice": false},
          "axis": {"values": [0,1,2,3,4,5,6,7], "title": "Intensity, Arb. unit", "labelPadding": 27, "titleX": -72, "titleY": 157, "titleBaseline": "alphabetic"}}
  },
  "layer": [
    {"data": {"name": "pmr"}, "mark": {"type": "line", "color": "#ff0000", "strokeWidth": 2, "clip": true}},
    {"data": {"name": "pmk"}, "mark": {"type": "line", "color": "black", "strokeWidth": 3, "clip": true}}
  ]
 }
]
}
